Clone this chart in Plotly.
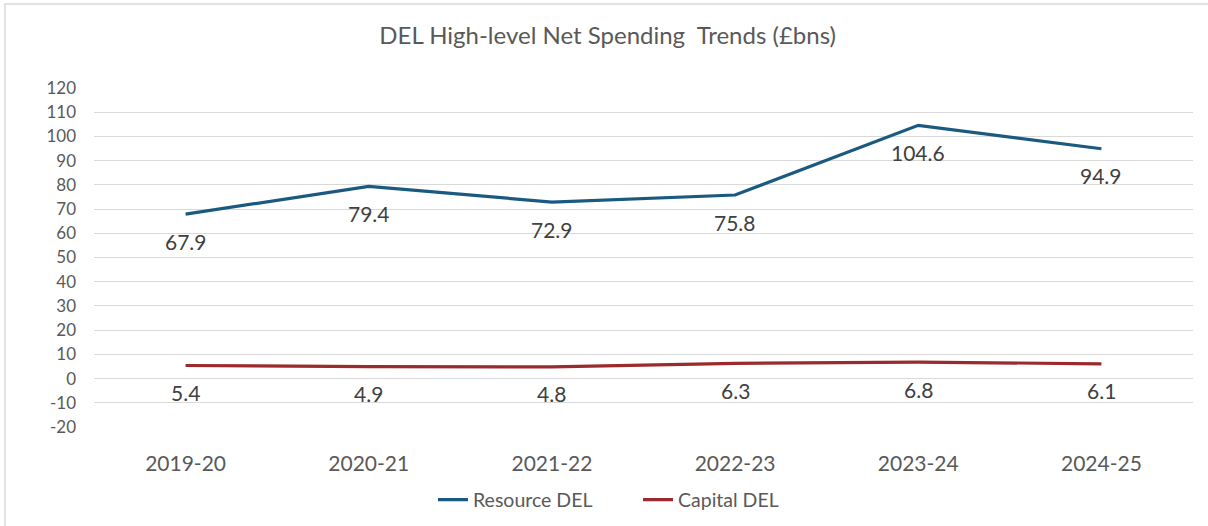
import plotly.graph_objects as go

years = ["2019-20", "2020-21", "2021-22", "2022-23", "2023-24", "2024-25"]
resource_del = [67.9, 79.4, 72.9, 75.8, 104.6, 94.9]
capital_del = [5.4, 4.9, 4.8, 6.3, 6.8, 6.1]
y_ticks = [-20, -10, 0, 10, 20, 30, 40, 50, 60, 70, 80, 90, 100, 110, 120]
y_tick_labels = [str(v) for v in y_ticks]

FONT = "Lato, 'Open Sans', sans-serif"
GREY = "#595959"
BLUE = "#1B5A80"
RED = "#9A2A2C"

fig = go.Figure()
fig.add_trace(go.Scatter(x=years, y=resource_del, mode="lines", name="Resource DEL",
                         line=dict(color=BLUE, width=3.2)))
fig.add_trace(go.Scatter(x=years, y=capital_del, mode="lines", name="Capital DEL",
                         line=dict(color=RED, width=3.2)))

annotations = []
for series in (resource_del, capital_del):
    for yr, v in zip(years, series):
        annotations.append(dict(x=yr, y=v, xref="x", yref="y", text=f"{v:.1f}",
                                showarrow=False, yshift=-27,
                                font=dict(family=FONT, size=21, color="#404040")))

fig.update_layout(
    width=1208, height=526,
    margin=dict(l=94, r=15, t=88, b=99, autoexpand=False),
    paper_bgcolor="white", plot_bgcolor="white",
    title=dict(text="DEL High-level Net Spending  Trends (£bns)", x=0.503, xanchor="center",
               y=1 - 36 / 526, yanchor="middle",
               font=dict(family=FONT, size=24, color=GREY)),
    font=dict(family=FONT, color=GREY),
    showlegend=True,
    legend=dict(orientation="h", x=(433 - 94) / 1099, xanchor="left",
                yref="container", y=1 - 500 / 526, yanchor="middle",
                font=dict(family=FONT, size=19.5, color=GREY), itemwidth=30,
                entrywidth=160, entrywidthmode="pixels",
                tracegroupgap=0),
    annotations=annotations,
    shapes=[dict(type="rect", xref="paper", yref="paper",
                 x0=-89 / 1099, x1=1.2, y0=-1, y1=1 + 84 / 339,
                 line=dict(color="#d9d9d9", width=1.5), fillcolor="rgba(0,0,0,0)",
                 layer="below")],
)
fig.update_xaxes(range=[-0.5, 5.5], showgrid=False, showline=False, zeroline=False,
                 tickfont=dict(family=FONT, size=21, color=GREY), ticks="",
                 ticklabelstandoff=22, automargin=False)
fig.update_yaxes(range=[-20, 120], tickvals=y_ticks, ticktext=y_tick_labels,
                 showgrid=True, gridcolor="#d9d9d9",
                 gridwidth=1, zeroline=False, showline=False,
                 tickfont=dict(family=FONT, size=17, color=GREY), ticks="",
                 ticklabelstandoff=17, automargin=False)

fig.write_html("out.html")
